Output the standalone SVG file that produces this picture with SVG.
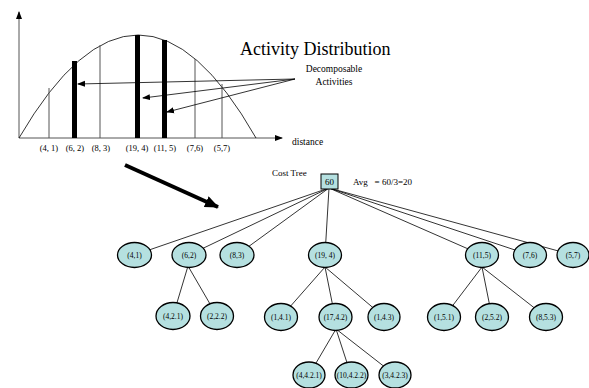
<svg xmlns="http://www.w3.org/2000/svg" width="589" height="388" viewBox="0 0 589 388">
<style>
.ax{stroke:#555;stroke-width:1;fill:none}
.thin{stroke:#555;stroke-width:1}
.bar{fill:#000}
.lbl{font-family:"Liberation Serif",serif;font-size:8.5px;fill:#000}
.con{stroke:#000;stroke-width:0.8;fill:none}
.node ellipse{fill:#b5e0e0;stroke:#000;stroke-width:1.3}
.node text{font-family:"Liberation Serif",serif;font-size:7.5px;fill:#000;text-anchor:middle}
</style>
<defs>
<marker id="ah" markerWidth="8" markerHeight="8" refX="7" refY="4" orient="auto" markerUnits="userSpaceOnUse"><path d="M0,1 L8,4 L0,7 Z" fill="#000"/></marker>
<marker id="big" markerWidth="14" markerHeight="12" refX="13" refY="6" orient="auto" markerUnits="userSpaceOnUse"><path d="M0,0 L14,6 L0,12 Z" fill="#000"/></marker>
</defs>
<g id="chart">
<line class="ax" x1="19" y1="138" x2="19" y2="12" marker-end="url(#ah)"/>
<line class="ax" x1="19" y1="138" x2="282" y2="138" marker-end="url(#ah)"/>
<path d="M19,138 Q139,-68 256,138" fill="none" stroke="#000" stroke-width="0.8"/>
<line class="thin" x1="49" y1="88" x2="49" y2="138"/>
<line class="thin" x1="100" y1="45" x2="100" y2="138"/>
<line class="thin" x1="195" y1="59" x2="195" y2="138"/>
<line class="thin" x1="222" y1="84" x2="222" y2="138"/>
<rect class="bar" x="72" y="61" width="5" height="77"/>
<rect class="bar" x="135" y="35" width="5" height="103"/>
<rect class="bar" x="162" y="40" width="5" height="98"/>
<text class="lbl" x="49" y="151" text-anchor="middle">(4, 1)</text>
<text class="lbl" x="75" y="151" text-anchor="middle">(6, 2)</text>
<text class="lbl" x="101" y="151" text-anchor="middle">(8, 3)</text>
<text class="lbl" x="137" y="151" text-anchor="middle">(19, 4)</text>
<text class="lbl" x="165" y="151" text-anchor="middle">(11, 5)</text>
<text class="lbl" x="195" y="151" text-anchor="middle">(7,6)</text>
<text class="lbl" x="222" y="151" text-anchor="middle">(5,7)</text>
<text x="292" y="145" font-family="Liberation Serif,serif" font-size="9.5px">distance</text>
<text x="240" y="55" font-family="Liberation Serif,serif" font-size="18px">Activity Distribution</text>
<text x="334" y="72" font-family="Liberation Serif,serif" font-size="9.5px" text-anchor="middle">Decomposable</text>
<text x="334" y="85" font-family="Liberation Serif,serif" font-size="9.5px" text-anchor="middle">Activities</text>
<line x1="295" y1="79" x2="78" y2="84" class="con" marker-end="url(#ah)"/>
<line x1="295" y1="79" x2="143" y2="98" class="con" marker-end="url(#ah)"/>
<line x1="295" y1="79" x2="167" y2="112" class="con" marker-end="url(#ah)"/>
<line x1="125" y1="165" x2="218" y2="207" stroke="#000" stroke-width="4" marker-end="url(#big)"/>
</g>
<g id="connectors">
<line class="con" x1="329" y1="188" x2="134.5" y2="255"/>
<line class="con" x1="329" y1="188" x2="189" y2="255"/>
<line class="con" x1="329" y1="188" x2="237" y2="255"/>
<line class="con" x1="329" y1="188" x2="325" y2="255"/>
<line class="con" x1="329" y1="188" x2="482" y2="255"/>
<line class="con" x1="329" y1="188" x2="530" y2="255"/>
<line class="con" x1="329" y1="188" x2="573" y2="255"/>
<line class="con" x1="188" y1="266" x2="173" y2="316"/>
<line class="con" x1="188" y1="266" x2="217" y2="316"/>
<line class="con" x1="325" y1="267" x2="281" y2="317"/>
<line class="con" x1="325" y1="267" x2="335" y2="317"/>
<line class="con" x1="325" y1="267" x2="384" y2="317"/>
<line class="con" x1="336" y1="329" x2="309" y2="375"/>
<line class="con" x1="336" y1="329" x2="351" y2="375"/>
<line class="con" x1="336" y1="329" x2="395" y2="375"/>
<line class="con" x1="482" y1="267" x2="444" y2="317"/>
<line class="con" x1="482" y1="267" x2="492" y2="317"/>
<line class="con" x1="482" y1="267" x2="546" y2="317"/>
</g>
<g id="root">
<text x="272" y="176" font-family="Liberation Serif,serif" font-size="9px">Cost Tree</text>
<rect x="321" y="174" width="17" height="15" fill="#b5e0e0" stroke="#000" stroke-width="1"/>
<text x="329.5" y="185" font-family="Liberation Serif,serif" font-size="9px" text-anchor="middle">60</text>
<text x="353" y="185" font-family="Liberation Serif,serif" font-size="9px" xml:space="preserve">Avg   = 60/3=20</text>
</g>
<g id="n41" class="node"><ellipse cx="134.5" cy="255" rx="17" ry="12.5"/><text x="134.5" y="258">(4,1)</text></g>
<g id="n62" class="node"><ellipse cx="189" cy="255" rx="17" ry="12.5"/><text x="189" y="258">(6,2)</text></g>
<g id="n83" class="node"><ellipse cx="237" cy="255" rx="17" ry="12.5"/><text x="237" y="258">(8,3)</text></g>
<g id="n194" class="node"><ellipse cx="325" cy="255" rx="16.5" ry="12.5"/><text x="325" y="258">(19, 4)</text></g>
<g id="n115" class="node"><ellipse cx="482" cy="255" rx="16.5" ry="12.5"/><text x="482" y="258">(11,5)</text></g>
<g id="n76" class="node"><ellipse cx="530" cy="255" rx="16.5" ry="12.5"/><text x="530" y="258">(7,6)</text></g>
<g id="n57" class="node"><ellipse cx="573" cy="255" rx="16" ry="12.5"/><text x="573" y="258">(5,7)</text></g>
<g id="n421" class="node"><ellipse cx="173" cy="316" rx="17" ry="13.5"/><text x="173" y="319">(4,2.1)</text></g>
<g id="n222" class="node"><ellipse cx="217" cy="316" rx="16.5" ry="13.5"/><text x="217" y="319">(2,2.2)</text></g>
<g id="n141" class="node"><ellipse cx="281" cy="317" rx="16.5" ry="13.5"/><text x="281" y="320">(1,4.1)</text></g>
<g id="n1742" class="node"><ellipse cx="335.5" cy="317" rx="16.5" ry="13.5"/><text x="335.5" y="320">(17,4.2)</text></g>
<g id="n143" class="node"><ellipse cx="384" cy="317" rx="16" ry="13.5"/><text x="384" y="320">(1,4.3)</text></g>
<g id="n151" class="node"><ellipse cx="444" cy="317" rx="16.5" ry="13.5"/><text x="444" y="320">(1,5.1)</text></g>
<g id="n252" class="node"><ellipse cx="492" cy="317" rx="16.5" ry="13.5"/><text x="492" y="320">(2,5.2)</text></g>
<g id="n853" class="node"><ellipse cx="546" cy="317" rx="16.5" ry="13.5"/><text x="546" y="320">(8,5.3)</text></g>
<g id="n4421" class="node"><ellipse cx="309" cy="375" rx="16" ry="13"/><text x="309" y="378">(4,4.2.1)</text></g>
<g id="n10422" class="node"><ellipse cx="351.5" cy="375" rx="16.5" ry="13"/><text x="351.5" y="378">(10,4.2.2)</text></g>
<g id="n3423" class="node"><ellipse cx="395" cy="375" rx="16" ry="13"/><text x="395" y="378">(3,4.2.3)</text></g>
</svg>
